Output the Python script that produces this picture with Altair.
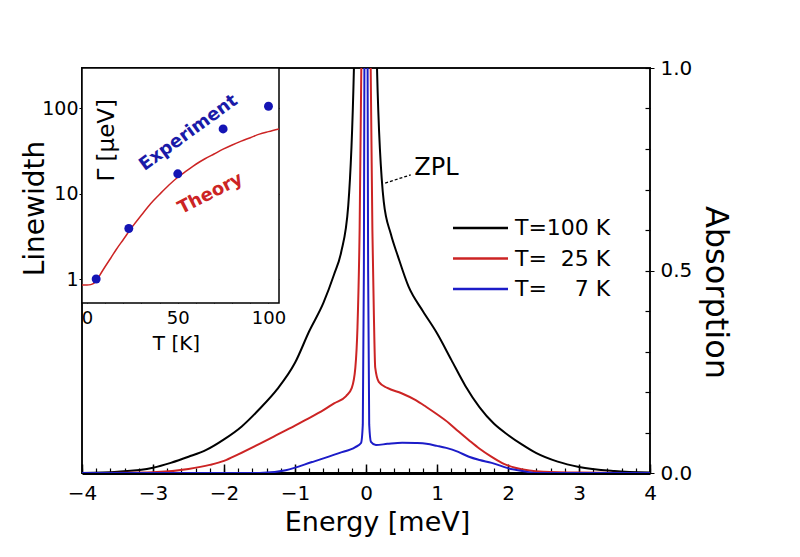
import altair as alt
import pandas as pd

# ---------------- data ----------------
series_labels = ["T=100 K", "T=\u200725 K", "T=\u2007\u20077 K"]
series_colors = ["#000000", "#cc2424", "#1c1cc8"]

E_100 = [-4, -3.5, -3.0, -2.75, -2.5, -2.25, -2.0, -1.75, -1.5, -1.25, -1.0, -0.8, -0.6,
         -0.45, -0.35, -0.25, -0.17, -0.08, 0, 0.08, 0.155, 0.25, 0.35, 0.45, 0.6, 0.8,
         1.0, 1.2, 1.4, 1.6, 1.8, 2.0, 2.2, 2.4, 2.7, 3.0, 3.5, 4.0]
A_100 = [0.0, 0.003, 0.013, 0.025, 0.040, 0.057, 0.083, 0.115, 0.158, 0.207, 0.272, 0.35, 0.42,
         0.49, 0.545, 0.66, 1.0, 2.0, 3.0, 2.0, 1.0, 0.67, 0.59, 0.535, 0.46, 0.40,
         0.345, 0.28, 0.215, 0.162, 0.122, 0.094, 0.07, 0.049, 0.028, 0.015, 0.005, 0.001]

E_25 = [-4, -3.0, -2.5, -2.2, -2.0, -1.8, -1.5, -1.3, -1.0, -0.85, -0.6, -0.45, -0.28, -0.2,
        -0.15, -0.12, -0.09, -0.06, 0, 0.06, 0.09, 0.11, 0.13, 0.18, 0.3, 0.5, 0.7, 0.85,
        1.0, 1.17, 1.3, 1.45, 1.6, 1.77, 1.95, 2.1, 2.3, 2.5, 3.0, 4.0]
A_25 = [0.0, 0.002, 0.01, 0.02, 0.03, 0.046, 0.072, 0.09, 0.117, 0.131, 0.155, 0.172, 0.19, 0.21,
        0.26, 0.36, 0.6, 1.1, 3.0, 1.1, 0.6, 0.40, 0.26, 0.225, 0.21, 0.197, 0.18, 0.163,
        0.145, 0.123, 0.103, 0.081, 0.06, 0.04, 0.022, 0.013, 0.006, 0.003, 0.001, 0.0]

E_7 = [-4, -1.5, -1.13, -0.76, -0.38, -0.15, -0.07, -0.045, -0.03, -0.015, 0, 0.015, 0.03,
       0.045, 0.07, 0.14, 0.3, 0.51, 0.7, 0.85, 1.0, 1.13, 1.3, 1.45, 1.6, 1.77, 2.0, 2.2, 2.4, 4.0]
A_7 = [0.0, 0.0, 0.007, 0.027, 0.049, 0.064, 0.074, 0.12, 0.5, 1.5, 3.0, 1.5, 0.5,
       0.12, 0.077, 0.069, 0.072, 0.075, 0.074, 0.072, 0.067, 0.062, 0.052, 0.04, 0.032, 0.025,
       0.012, 0.005, 0.0, 0.0]

T_exp = [5, 23, 50, 75, 100]
G_exp = [1.0, 3.9, 17, 57, 105]

T_th = [-2.8, 0, 2, 4, 6, 8, 10, 13, 16, 20, 25, 30, 35, 40, 45, 50, 55, 60, 65, 70, 75,
        80, 85, 90, 95, 100, 105.8]
G_th = [0.85, 0.85, 0.86, 0.9, 1.02, 1.2, 1.4, 1.75, 2.2, 2.9, 4.1, 5.6, 7.6, 9.8, 12.5,
        15.5, 18.5, 22, 25.5, 29, 33, 37, 41, 45, 49.5, 53, 57]

x_major = [-4, -3, -2, -1, 0, 1, 2, 3, 4]
y_major = [0.0, 0.5, 1.0]
inset_x_labels = [0, 50, 100]
inset_y_labels = [1, 10, 100]

# ---------------- tables ----------------
frames = []
for lab, Es, As in zip(series_labels, [E_100, E_25, E_7], [A_100, A_25, A_7]):
    frames.append(pd.DataFrame({"E": Es, "A": As, "series": lab}))
df_curves = pd.concat(frames, ignore_index=True)
df_exp = pd.DataFrame({"T": T_exp, "G": G_exp})
df_th = pd.DataFrame({"T": T_th, "G": G_th})
df_leg = pd.DataFrame({"series": series_labels, "idx": [0, 1, 2]})
df_span = pd.DataFrame({"E": [-4, 4], "A": [0, 1]})
one = pd.DataFrame({"k": [0]})

FONT = "DejaVu Sans"
W, H = 568, 405
IW, IH = 197, 235

xs = alt.Scale(domain=[-4, 4], nice=False, zero=False)
ys = alt.Scale(domain=[0, 1], nice=False, zero=False)
ixs = alt.Scale(domain=[-2.8, 105.8], range=[0, IW], nice=False, zero=False)
iys = alt.Scale(type="log", domain=[0.524, 294], range=[IH, 0], nice=False)
cscale = alt.Scale(domain=series_labels, range=series_colors)

# ---------------- main plot ----------------
curves = alt.Chart(df_curves).mark_line(strokeWidth=2, clip=True, interpolate="monotone").encode(
    x=alt.X("E:Q", scale=xs, axis=alt.Axis(
        orient="bottom", values=x_major, tickSize=0, domain=False, grid=False,
        labelFontSize=20, labelPadding=10, labelFlush=False,
        title="Energy [meV]", titleFontSize=27, titleX=295, titleY=49,
        titleAlign="center", titleBaseline="middle")),
    y=alt.Y("A:Q", scale=ys, axis=alt.Axis(
        orient="right", values=y_major, format=".1f", tickSize=4, domain=False, grid=False,
        labelFontSize=20, labelPadding=6,
        title="Absorption", titleFontSize=32, titleAngle=90, titleX=65, titleY=224,
        titleAlign="center", titleBaseline="middle")),
    color=alt.Color("series:N", scale=cscale, legend=None),
    detail="series:N",
)

minor_ticks = alt.Chart(df_span).mark_point(opacity=0).encode(
    x=alt.X("E:Q", scale=xs, axis=alt.Axis(
        orient="top", offset=-H, tickCount=40, labels=False, domain=False, grid=False,
        tickSize=5, tickWidth=1.2, title=None)),
    y=alt.Y("A:Q", scale=ys, axis=alt.Axis(
        orient="left", offset=-W, tickCount=10, labels=False, domain=False, grid=False,
        tickSize=5, tickWidth=1.2, title=None)),
)

major_ticks = alt.Chart(df_span).mark_point(opacity=0).encode(
    x=alt.X("E:Q", scale=xs, axis=alt.Axis(
        orient="top", offset=-H, values=x_major, labels=False, domain=False, grid=False,
        tickSize=9, tickWidth=1.5, title=None)),
    y=alt.Y("A:Q", scale=ys, axis=None),
)

bottom_line = alt.Chart(df_span).mark_point(opacity=0).encode(
    x=alt.X("E:Q", scale=xs, axis=alt.Axis(
        orient="bottom", values=[], labels=False, domain=True, domainWidth=3,
        domainColor="black", ticks=False, grid=False, title=None)),
    y=alt.Y("A:Q", scale=ys, axis=None),
)

zpl_text = alt.Chart(one).mark_text(text="ZPL", font=FONT, fontSize=24, align="left",
                                    baseline="middle", color="black").encode(
    x=alt.XDatum(0.68, type="quantitative", scale=xs, axis=None),
    y=alt.YDatum(0.752, type="quantitative", scale=ys, axis=None),
)
zpl_lead = alt.Chart(one).mark_rule(strokeDash=[3, 2], strokeWidth=1.3, color="black").encode(
    x=alt.XDatum(0.27, type="quantitative", scale=xs, axis=None),
    x2=alt.X2Datum(0.63),
    y=alt.YDatum(0.716, type="quantitative", scale=ys, axis=None),
    y2=alt.Y2Datum(0.736),
)

leg_y = alt.Y("idx:Q", scale=alt.Scale(domain=[0, 2], range=[160, 221], nice=False, zero=False),
              axis=None)
leg_lines = alt.Chart(df_leg).mark_rule(strokeWidth=2.5).encode(
    x=alt.value(371), x2=alt.value(426), y=leg_y,
    color=alt.Color("series:N", scale=cscale, legend=None),
)
leg_text = alt.Chart(df_leg).mark_text(font=FONT, fontSize=22, align="left", baseline="middle",
                                       color="black").encode(
    x=alt.value(433), y=leg_y, text="series:N",
)

# ---------------- inset ----------------
df_frame = pd.DataFrame({"T0": [-2.8], "T1": [105.8], "G0": [0.524], "G1": [294]})
inset_frame = alt.Chart(df_frame).mark_rect(fill="white", stroke="black", strokeWidth=1.5).encode(
    x=alt.X("T0:Q", scale=ixs, axis=alt.Axis(
        orient="top", offset=-IH, tickCount=10, labels=False, domain=False, grid=False,
        tickSize=3, title=None)),
    x2="T1:Q",
    y=alt.Y("G0:Q", scale=iys, axis=alt.Axis(
        orient="left", offset=-IW, values=inset_y_labels, labels=False, domain=False,
        grid=False, tickSize=4, title=None)),
    y2="G1:Q",
)

inset_line = alt.Chart(df_th).mark_line(color="#cc2424", strokeWidth=1.5, clip=True,
                                        interpolate="monotone").encode(
    x=alt.X("T:Q", scale=ixs, axis=alt.Axis(
        orient="bottom", offset=-(H - IH), values=inset_x_labels, tickSize=0, domain=False,
        grid=False, labelFontSize=18, labelPadding=6, labelFlush=False,
        title="T [K]", titleFontSize=20, titleX=94, titleY=40,
        titleAlign="center", titleBaseline="middle")),
    y=alt.Y("G:Q", scale=iys, axis=alt.Axis(
        orient="left", values=inset_y_labels, format="d", tickSize=3, domain=False,
        grid=False, labelFontSize=19, labelPadding=1,
        title="Linewidth", titleFontSize=28, titleAngle=270, titleX=-47, titleY=140,
        titleAlign="center", titleBaseline="middle")),
)

inset_pts = alt.Chart(df_exp).mark_circle(size=80, color="#1414b4", opacity=1).encode(
    x=alt.X("T:Q", scale=ixs, axis=None),
    y=alt.Y("G:Q", scale=iys, axis=None),
)


def inset_text(txt, T, G, **kw):
    return alt.Chart(one).mark_text(text=txt, font=FONT, align="center", baseline="middle",
                                    **kw).encode(
        x=alt.XDatum(T, type="quantitative", scale=ixs, axis=None),
        y=alt.YDatum(G, type="quantitative", scale=iys, axis=None),
    )


exp_text = inset_text("Experiment", 56, 51, angle=324, fontSize=18, fontWeight="bold",
                      color="#1a1aa8")
th_text = inset_text("Theory", 68, 9.9, angle=333, fontSize=18, fontWeight="bold",
                     color="#cc2424")
gam_text = inset_text("\u0393 [\u03bceV]", 11, 42, angle=270, fontSize=23, color="black")

chart = alt.layer(
    curves, minor_ticks, major_ticks, bottom_line, zpl_lead, zpl_text, leg_lines, leg_text,
    inset_frame, inset_line, inset_pts, exp_text, th_text, gam_text,
).resolve_scale(
    x="independent", y="independent", color="independent"
).properties(
    width=W, height=H,
    padding={"left": 82, "top": 68, "right": 150, "bottom": 84},
    autosize=alt.AutoSizeParams(type="none"),
    background="white",
).configure_view(
    stroke="#111111", strokeWidth=2
).configure_axis(
    labelFont=FONT, titleFont=FONT, labelColor="black", titleColor="black",
    tickColor="black", titleFontWeight="normal"
)

chart.save("out.html", embed_options={"renderer": "svg", "actions": False})
